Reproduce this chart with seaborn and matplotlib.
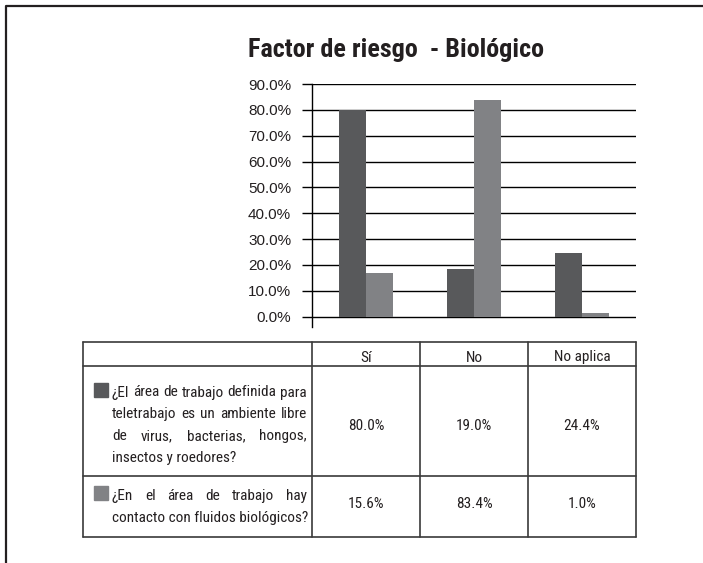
import pandas as pd
import seaborn as sns
import matplotlib.pyplot as plt
from matplotlib import font_manager as fm
from matplotlib.lines import Line2D
from matplotlib.patches import Rectangle


# Data
categories = ['Sí', 'No', 'No aplica']
q1_label = '¿El área de trabajo definida para teletrabajo es un ambiente libre de virus, bacterias, hongos, insectos y roedores?'
q2_label = '¿En el área de trabajo hay contacto con fluidos biológicos?'
q1_bars = [80.1, 18.5, 24.6]
q2_bars = [16.9, 84.0, 1.5]
q1_table = [80.0, 19.0, 24.4]
q2_table = [15.6, 83.4, 1.0]
y_ticks = [0, 10, 20, 30, 40, 50, 60, 70, 80, 90]

colors = ['#58595b', '#818285']

df = pd.DataFrame({
    'categoria': categories * 2,
    'valor': q1_bars + q2_bars,
    'pregunta': [q1_label] * 3 + [q2_label] * 3,
})

sns.set_style('white')
names = {f.name for f in fm.fontManager.ttflist}
narrow = next(n for n in ['Roboto Condensed', 'Archivo Narrow', 'PT Sans Narrow',
                          'Barlow Condensed', 'Liberation Sans'] if n in names)
plt.rcParams['font.family'] = ['Liberation Sans', 'DejaVu Sans']

W, H = 703, 563
fig = plt.figure(figsize=(W / 100, H / 100), dpi=100)


def fx(px):
    return px / W


def fy(py):
    return 1 - py / H


# chart area
ax = fig.add_axes([fx(312), fy(327), fx(636) - fx(312), fy(84) - fy(327)])
sns.barplot(data=df, x='categoria', y='valor', hue='pregunta', palette=colors,
            width=0.5, gap=0, saturation=1, legend=False, ax=ax)
ax.set_xlim(-0.5, 2.5)
ax.set_ylim(-4, 90)
ax.set_yticks(y_ticks)
ax.set_yticklabels([f'{v:.1f}%' for v in y_ticks], fontsize=11, color='#231f20')
ax.set_xticks([])
ax.set_xlabel('')
ax.set_ylabel('')
ax.yaxis.grid(True, color='black', linewidth=1)
ax.set_axisbelow(True)
for s in ['top', 'right', 'bottom']:
    ax.spines[s].set_visible(False)
ax.spines['left'].set_color('black')
ax.spines['left'].set_linewidth(1)
ax.tick_params(axis='y', direction='out', length=7, width=1, color='black', pad=8, left=True)
for b in ax.patches:
    b.set_edgecolor('none')

fig.text(fx(395.5), fy(57), 'Factor de riesgo  - Biológico', family=[narrow, 'DejaVu Sans'],
         fontweight='bold', fontsize=18.8, ha='center', va='baseline', color='#231f20')

# outer frame
fig.add_artist(Line2D([fx(6), fx(6), fx(703)], [fy(563), fy(6), fy(6)],
                      transform=fig.transFigure, color='#231f20', linewidth=1.6))

# data table under the chart
fig.canvas.draw()
col_x = [83] + [ax.transData.transform((c - 0.5, 0))[0] for c in range(4)]
row_y = [342, 366, 476, 537]
line_kw = dict(transform=fig.transFigure, color='#3a3a3a', linewidth=1.2)
for yy in row_y:
    fig.add_artist(Line2D([fx(col_x[0]), fx(col_x[-1])], [fy(yy), fy(yy)], **line_kw))
for xx in col_x:
    fig.add_artist(Line2D([fx(xx), fx(xx)], [fy(row_y[0]), fy(row_y[-1])], **line_kw))

tkw = dict(family=[narrow, 'DejaVu Sans'], fontsize=11, color='#231f20', va='baseline')
for i, c in enumerate(categories):
    cx = (col_x[i + 1] + col_x[i + 2]) / 2
    fig.text(fx(cx), fy(361.5), c, ha='center', **tkw)
    fig.text(fx(cx), fy(430.5), f'{q1_table[i]:.1f}%', ha='center', **tkw)
    fig.text(fx(cx), fy(507.5), f'{q2_table[i]:.1f}%', ha='center', **tkw)

renderer = fig.canvas.get_renderer()


def justified(lines, x0, x1, y0, dy):
    for i, line in enumerate(lines):
        y = y0 + i * dy
        words = line.split()
        if i == len(lines) - 1:
            fig.text(fx(x0), fy(y), line, ha='left', **tkw)
            continue
        ts = [fig.text(0, fy(y), w, ha='left', **tkw) for w in words]
        widths = [t.get_window_extent(renderer).width for t in ts]
        gap = (x1 - x0 - sum(widths)) / (len(words) - 1)
        x = x0
        for t, w in zip(ts, widths):
            t.set_x(fx(x))
            x += w + gap


justified(['¿El área de trabajo definida para', 'teletrabajo es un ambiente libre',
           'de virus, bacterias, hongos,', 'insectos y roedores?'], 112, 307, 396.5, 21.7)
justified(['¿En el área de trabajo hay', 'contacto con fluidos biológicos?'], 112, 307, 500, 21.7)

fig.add_artist(Rectangle((fx(94), fy(397)), fx(13.5), fy(0) - fy(14),
                         transform=fig.transFigure, color=colors[0]))
fig.add_artist(Rectangle((fx(94), fy(500)), fx(13.5), fy(0) - fy(14),
                         transform=fig.transFigure, color=colors[1]))

plt.savefig('out.png', dpi=100)
